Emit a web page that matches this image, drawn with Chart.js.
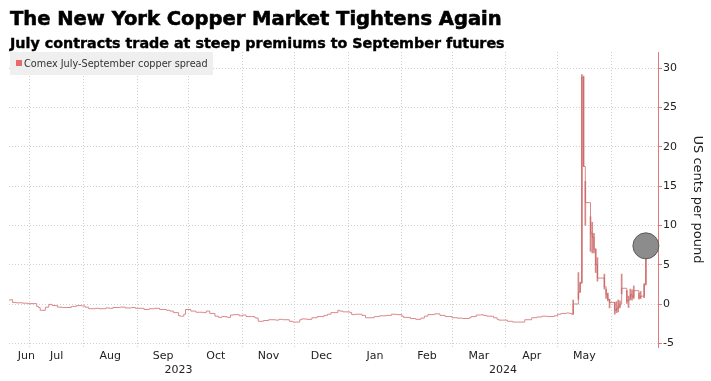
<!DOCTYPE html>
<html><head><meta charset="utf-8">
<script src="https://cdn.jsdelivr.net/npm/chart.js@4.4.1/dist/chart.umd.min.js"></script>
<style>html,body{margin:0;padding:0;background:#fff}#wrap{width:711px;height:381px;position:relative}</style>
</head><body><div id="wrap"><canvas id="c" width="711" height="381"></canvas></div>
<script>
const titleText = 'The New York Copper Market Tightens Again';
const subtitleText = 'July contracts trade at steep premiums to September futures';
const seriesLabel = 'Comex July-September copper spread';
const axisTitle = 'US cents per pound';
const monthNames = ['Jan','Feb','Mar','Apr','May','Jun','Jul','Aug','Sep','Oct','Nov','Dec'];
const yTickValues = [-5, 0, 5, 10, 15, 20, 25, 30];
const axisStart = '2023-06-19';
const axisEnd = '2024-06-28';
const lastLabelledMonth = '2024-05';

// Daily closes (US cents per pound), quiet period
const flatDates = ['2023-06-19','2023-06-20','2023-06-21','2023-06-23','2023-06-27','2023-06-30','2023-07-05','2023-07-06','2023-07-07','2023-07-10','2023-07-12','2023-07-14','2023-07-17','2023-07-20','2023-07-25','2023-07-28','2023-07-31','2023-08-02','2023-08-04','2023-08-08','2023-08-10','2023-08-14','2023-08-16','2023-08-18','2023-08-22','2023-08-25','2023-08-29','2023-08-31','2023-09-05','2023-09-08','2023-09-11','2023-09-14','2023-09-18','2023-09-20','2023-09-22','2023-09-25','2023-09-26','2023-09-28','2023-09-29','2023-10-02','2023-10-05','2023-10-09','2023-10-11','2023-10-13','2023-10-16','2023-10-18','2023-10-20','2023-10-23','2023-10-25','2023-10-27','2023-10-30','2023-11-01','2023-11-03','2023-11-06','2023-11-08','2023-11-09','2023-11-10','2023-11-13','2023-11-16','2023-11-20','2023-11-22','2023-11-24','2023-11-28','2023-11-30','2023-12-04','2023-12-05','2023-12-08','2023-12-11','2023-12-14','2023-12-18','2023-12-20','2023-12-22','2023-12-26','2023-12-27','2023-12-29','2024-01-02','2024-01-03','2024-01-05','2024-01-09','2024-01-11','2024-01-16','2024-01-17','2024-01-19','2024-01-23','2024-01-26','2024-01-29','2024-02-01','2024-02-02','2024-02-06','2024-02-09','2024-02-12','2024-02-14','2024-02-16','2024-02-20','2024-02-23','2024-02-26','2024-03-01','2024-03-04','2024-03-07','2024-03-11','2024-03-12','2024-03-15','2024-03-18','2024-03-19','2024-03-21','2024-03-25','2024-03-27','2024-03-28','2024-04-02','2024-04-05','2024-04-08','2024-04-11','2024-04-12','2024-04-15','2024-04-16','2024-04-19','2024-04-22','2024-04-25','2024-04-29','2024-05-01','2024-05-03','2024-05-06','2024-05-08','2024-05-09'];
const flatValues = [0.5,0.55,0.2,0.15,0.1,0.05,-0.3,-0.45,-0.8,-0.4,-0.05,-0.2,-0.4,-0.45,-0.3,-0.2,-0.25,-0.4,-0.6,-0.55,-0.6,-0.5,-0.55,-0.45,-0.4,-0.5,-0.45,-0.55,-0.7,-0.6,-0.55,-0.7,-0.8,-0.9,-1.1,-1.5,-1.55,-1.3,-0.7,-0.9,-1.05,-1.1,-0.9,-1.2,-1.55,-1.7,-1.6,-1.7,-1.4,-1.35,-1.5,-1.4,-1.6,-1.6,-1.75,-1.8,-2.2,-2.1,-2.0,-2.05,-1.95,-2.0,-2.2,-2.3,-2.0,-1.9,-1.95,-1.75,-1.6,-1.45,-1.3,-1.1,-0.8,-0.9,-1.0,-1.1,-1.35,-1.3,-1.45,-1.75,-1.6,-1.6,-1.5,-1.45,-1.3,-1.35,-1.55,-1.7,-1.85,-1.95,-1.8,-1.55,-1.35,-1.25,-1.45,-1.6,-1.75,-1.8,-1.85,-1.75,-1.6,-1.4,-1.35,-1.45,-1.55,-1.75,-1.95,-2.05,-2.2,-2.3,-2.3,-2.3,-2.0,-2.0,-1.75,-1.65,-1.55,-1.6,-1.5,-1.3,-1.2,-1.15,-1.2,-1.3];

// Volatile period: daily low / high / close
const spikeDates = ['2024-05-10','2024-05-13','2024-05-14','2024-05-15','2024-05-16','2024-05-17','2024-05-20','2024-05-21','2024-05-22','2024-05-23','2024-05-24','2024-05-28','2024-05-29','2024-05-30','2024-05-31','2024-06-03','2024-06-04','2024-06-05','2024-06-06','2024-06-07','2024-06-10','2024-06-11','2024-06-12','2024-06-13','2024-06-14','2024-06-17','2024-06-18','2024-06-20','2024-06-21'];
const spikeLow   = [-1.3,0.6,1.5,2.7,17.5,10.0,6.7,6.5,6.5,4.0,2.9,1.9,0.7,0.4,-0.5,-1.3,-1.1,-1.0,-0.5,1.3,0.0,-0.45,0.6,0.5,0.7,0.6,0.7,0.8,2.5];
const spikeHigh  = [0.5,4.0,2.8,29.2,29.0,15.6,11.1,10.4,9.0,7.0,5.9,3.8,1.9,1.4,0.6,0.2,0.3,0.5,0.4,3.8,1.7,1.0,1.9,1.8,2.3,1.4,1.6,2.6,7.4];
const spikeClose = [0.0,1.5,2.6,28.8,17.5,12.9,9.0,8.5,7.0,5.0,3.3,2.2,1.2,0.6,0.2,-0.8,-0.6,-0.3,0.0,2.0,0.4,0.5,1.2,0.9,1.7,0.8,1.0,2.4,7.4];

const DAY0 = Date.UTC(2023, 5, 1);
const dayOf = s => (Date.parse(s + 'T00:00:00Z') - DAY0) / 864e5;
const xMin = dayOf(axisStart), xMax = dayOf(axisEnd);

const monthStarts = [], monthLabels = [];
{
  let y = 2023, m = 5;
  while (true) {
    const start = (Date.UTC(y, m, 1) - DAY0) / 864e5;
    const next = (Date.UTC(y, m + 1, 1) - DAY0) / 864e5;
    if (start > xMax) break;
    if (start > xMin) monthStarts.push(start);
    const key = y + '-' + String(m + 1).padStart(2, '0');
    if (key <= lastLabelledMonth) {
      const mid = (start + next) / 2;
      monthLabels.push({ value: Math.max(mid, xMin + 10), label: monthNames[m] });
    }
    m++; if (m > 11) { m = 0; y++; }
  }
}
const yearLabels = [2023, 2024].map(yr => {
  const a = Math.max(xMin, (Date.UTC(yr, 0, 1) - DAY0) / 864e5);
  const b = Math.min(xMax, (Date.UTC(yr + 1, 0, 1) - DAY0) / 864e5);
  return { value: (a + b) / 2, label: String(yr) };
});

const lineData = flatDates.map((d, i) => ({ x: dayOf(d), y: flatValues[i] }))
  .concat(spikeDates.map((d, i) => ({ x: dayOf(d), y: spikeClose[i] })));
const barData = spikeDates.map((d, i) => ({ x: dayOf(d), y: [spikeLow[i], spikeHigh[i]] }));
const lastIdx = spikeDates.length - 1;
const markerData = [{ x: dayOf(spikeDates[lastIdx]), y: spikeClose[lastIdx] }];

const FONT = '"DejaVu Sans", Verdana, sans-serif';
const gridColor = '#cfcfcf';
const axisRed = '#e07c7c';

const decor = {
  id: 'decor',
  afterDraw(chart) {
    const ctx = chart.ctx;
    ctx.save();
    const fit = (text, weight, target) => {
      ctx.font = weight + ' 20px ' + FONT;
      return 20 * target / ctx.measureText(text).width;
    };
    ctx.fillStyle = '#000';
    ctx.strokeStyle = '#000';
    ctx.lineWidth = 0.6;
    ctx.textBaseline = 'alphabetic';
    ctx.textAlign = 'left';
    let s = fit(titleText, 'bold', 492);
    ctx.font = 'bold ' + s.toFixed(2) + 'px ' + FONT;
    ctx.fillText(titleText, 10, 25);
    ctx.strokeText(titleText, 10, 25);
    s = fit(subtitleText, 'bold', 495);
    ctx.font = 'bold ' + s.toFixed(2) + 'px ' + FONT;
    ctx.fillText(subtitleText, 10, 47.5);
    ctx.lineWidth = 0.4;
    ctx.strokeText(subtitleText, 10, 47.5);
    // legend
    ctx.fillStyle = '#efefef';
    ctx.fillRect(10, 52, 203, 23);
    ctx.fillStyle = '#e86a6a';
    ctx.fillRect(16, 60, 6, 6);
    s = fit(seriesLabel, 'normal', 184);
    ctx.font = s.toFixed(2) + 'px ' + FONT;
    ctx.fillStyle = '#333';
    ctx.fillText(seriesLabel, 24, 67);
    ctx.restore();
  }
};

const noPad = s => { s.paddingLeft = 0; s.paddingRight = 0; };

new Chart(document.getElementById('c'), {
  type: 'line',
  data: {
    datasets: [
      { type: 'scatter', label: 'latest', data: markerData, pointRadius: 13, pointHoverRadius: 13,
        pointBackgroundColor: '#8c8c8c', pointBorderColor: '#5c5c5c', pointBorderWidth: 1, showLine: false, clip: false, order: 0 },
      { type: 'bar', label: seriesLabel + ' range', data: barData, backgroundColor: 'rgba(200,95,95,0.75)', borderWidth: 0,
        barThickness: 1, order: 1 },
      { type: 'line', label: seriesLabel, data: lineData, borderColor: '#d98a8a', borderWidth: 1, stepped: true,
        pointRadius: 0, order: 2 }
    ]
  },
  options: {
    responsive: false, animation: false, devicePixelRatio: 1,
    layout: { autoPadding: false, padding: { left: 9, top: 52, right: 2, bottom: 3 } },
    plugins: { legend: { display: false }, tooltip: { enabled: false }, title: { display: false } },
    scales: {
      x: {
        type: 'linear', position: 'bottom', min: xMin, max: xMax, offset: false, weight: 0,
        afterBuildTicks: s => { s.ticks = monthStarts.map(v => ({ value: v })); },
        afterFit: s => { s.height = 0; noPad(s); },
        ticks: { display: false },
        grid: { offset: false, color: gridColor, lineWidth: 1, drawTicks: false, borderDash: [1, 2] },
        border: { display: false, dash: [1, 2] }
      },
      xm: {
        type: 'linear', position: 'bottom', min: xMin, max: xMax, offset: false, weight: 1,
        afterBuildTicks: s => { s.ticks = monthLabels.map(o => ({ value: o.value })); },
        afterFit: s => { s.height = 17; noPad(s); },
        ticks: { autoSkip: false, maxRotation: 0, padding: 3, color: '#222', font: { family: FONT, size: 11 },
          callback: v => { const o = monthLabels.find(m => Math.abs(m.value - v) < 1e-6); return o ? o.label : ''; } },
        grid: { display: false, drawTicks: false },
        border: { display: false }
      },
      xy: {
        type: 'linear', position: 'bottom', min: xMin, max: xMax, offset: false, weight: 2,
        afterBuildTicks: s => { s.ticks = yearLabels.map(o => ({ value: o.value })); },
        afterFit: s => { s.height = 14; noPad(s); },
        ticks: { autoSkip: false, maxRotation: 0, padding: 0, color: '#222', font: { family: FONT, size: 11 },
          callback: v => { const o = yearLabels.find(m => Math.abs(m.value - v) < 1e-6); return o ? o.label : ''; } },
        grid: { display: false, drawTicks: false },
        border: { display: false }
      },
      y: {
        type: 'linear', position: 'right', min: -5.47, max: 32.06,
        afterBuildTicks: s => { s.ticks = yTickValues.map(v => ({ value: v })); },
        afterFit: s => { s.width = 51; },
        ticks: { padding: 1, color: '#222', font: { family: FONT, size: 11 } },
        grid: { color: gridColor, tickColor: axisRed, tickLength: 4, drawTicks: true, borderDash: [1, 2], tickBorderDash: [] },
        border: { display: true, color: axisRed, width: 1, dash: [1, 2] },
        title: { display: true, text: axisTitle, color: '#222', font: { family: FONT, size: 13 }, padding: { top: 4, bottom: 4 } }
      }
    }
  },
  plugins: [decor]
});
</script>
</body></html>
